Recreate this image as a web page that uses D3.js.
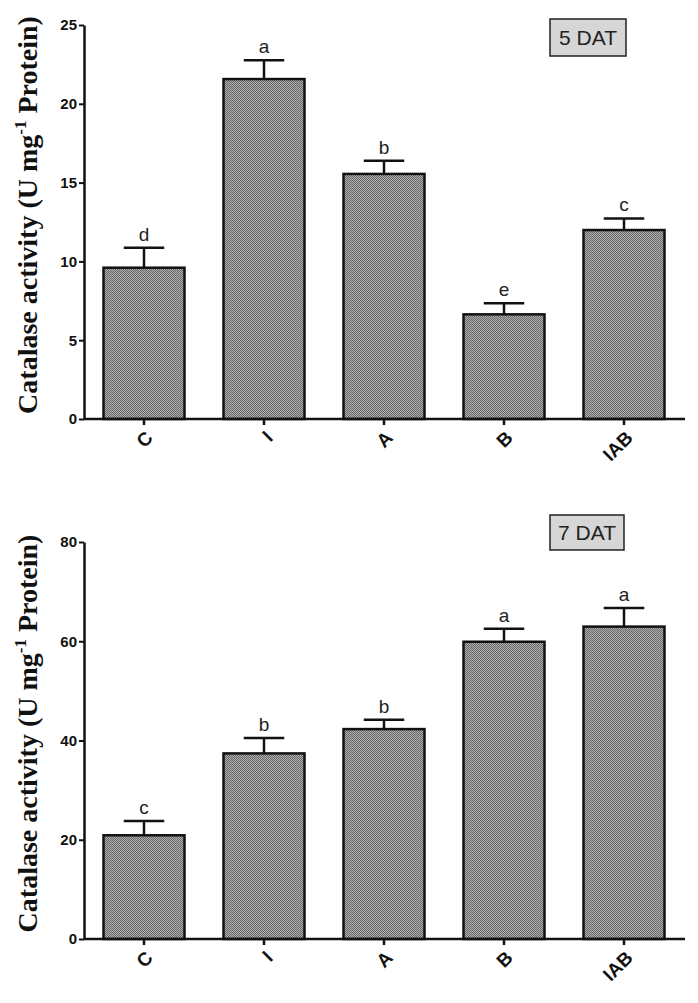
<!DOCTYPE html>
<html lang="en">
<head>
  <meta charset="UTF-8">
  <title>Catalase activity 5 DAT / 7 DAT</title>
  <script src="https://d3js.org/d3.v7.min.js"></script>
  <style>
    body { margin: 0; background: #fff; }
    svg { display: block; }
    .tick text { font-family: "Liberation Sans", Arial, sans-serif; font-weight: bold; fill: #111; }
  </style>
</head>
<body>
  <script>
    // Data
    const categories = ["C", "I", "A", "B", "IAB"];

    const dat5Means = [9.6, 21.57, 15.55, 6.64, 11.99];
    const dat5Errors = [1.27, 1.19, 0.84, 0.7, 0.74];
    const dat5Letters = ["d", "a", "b", "e", "c"];
    const dat5Ticks = [0, 5, 10, 15, 20, 25];

    const dat7Means = [20.9, 37.4, 42.3, 59.9, 62.95];
    const dat7Errors = [2.9, 3.1, 1.9, 2.6, 3.75];
    const dat7Letters = ["c", "b", "b", "a", "a"];
    const dat7Ticks = [0, 20, 40, 60, 80];

    const width = 698, height = 1003;
    const axisLeftX = 84, axisRightX = 685;

    const svg = d3.select("body").append("svg")
      .attr("width", width)
      .attr("height", height);

    // halftone-like fill of the bars
    const pat = svg.append("defs").append("pattern")
      .attr("id", "dots")
      .attr("patternUnits", "userSpaceOnUse")
      .attr("width", 2).attr("height", 2);
    pat.append("rect").attr("width", 2).attr("height", 2).attr("fill", "#b0b0b0");
    pat.append("rect").attr("width", 1).attr("height", 1).attr("fill", "#666");
    pat.append("rect").attr("x", 1).attr("y", 1).attr("width", 1).attr("height", 1).attr("fill", "#666");

    const x = d3.scaleBand()
      .domain(categories)
      .range([axisLeftX, axisRightX - 1])
      .paddingInner(0.325)
      .paddingOuter(0.1625);

    const panels = [
      { label: "5 DAT", means: dat5Means, errors: dat5Errors, letters: dat5Letters, ticks: dat5Ticks,
        yBottom: 419, yTop: 25, box: [550, 19, 76, 37] },
      { label: "7 DAT", means: dat7Means, errors: dat7Errors, letters: dat7Letters, ticks: dat7Ticks,
        yBottom: 939, yTop: 542, box: [550, 515, 74, 35] }
    ];

    panels.forEach(p => {
      const y = d3.scaleLinear()
        .domain([0, d3.max(p.ticks)])
        .range([p.yBottom, p.yTop]);

      const g = svg.append("g");

      // bars
      g.selectAll(".bar")
        .data(categories)
        .enter()
        .append("rect")
        .attr("class", "bar")
        .attr("x", d => x(d))
        .attr("y", (d, i) => y(p.means[i]))
        .attr("width", x.bandwidth())
        .attr("height", (d, i) => y(0) - y(p.means[i]))
        .attr("fill", "url(#dots)")
        .attr("stroke", "#111")
        .attr("stroke-width", 2.5);

      // error bars (upper only) + significance letters
      const capHalf = x.bandwidth() * 0.25;
      categories.forEach((c, i) => {
        const cx = x(c) + x.bandwidth() / 2;
        const top = y(p.means[i] + p.errors[i]);
        g.append("line")
          .attr("x1", cx).attr("x2", cx)
          .attr("y1", y(p.means[i])).attr("y2", top)
          .attr("stroke", "#111").attr("stroke-width", 2.5);
        g.append("line")
          .attr("x1", cx - capHalf).attr("x2", cx + capHalf)
          .attr("y1", top).attr("y2", top)
          .attr("stroke", "#111").attr("stroke-width", 2.5);
        g.append("text")
          .attr("x", cx)
          .attr("y", top - 7)
          .attr("text-anchor", "middle")
          .style("font-family", "'Liberation Sans', Arial, sans-serif")
          .style("font-size", "19px")
          .style("fill", "#222")
          .text(p.letters[i]);
      });

      // y axis
      const yAxis = g.append("g")
        .attr("transform", `translate(${axisLeftX},0)`)
        .call(d3.axisLeft(y).tickValues(p.ticks).tickSize(5).tickSizeOuter(0).tickPadding(2));
      yAxis.select(".domain").attr("stroke", "#111").attr("stroke-width", 2.5);
      yAxis.selectAll(".tick line").attr("stroke", "#111").attr("stroke-width", 2);
      yAxis.selectAll(".tick text").style("font-size", "15px");

      // x axis
      const xAxis = g.append("g")
        .attr("transform", `translate(0,${p.yBottom})`)
        .call(d3.axisBottom(x).tickSize(6).tickSizeOuter(0));
      xAxis.select(".domain").attr("stroke", "#111").attr("stroke-width", 2.5)
        .attr("d", `M${axisLeftX},0H${axisRightX}`);
      xAxis.selectAll(".tick line").attr("stroke", "#111").attr("stroke-width", 2.5);
      xAxis.selectAll(".tick text")
        .style("font-size", "19px")
        .attr("text-anchor", "end")
        .attr("dy", null)
        .attr("y", 0)
        .attr("transform", "translate(10,20) rotate(-45)");

      // y axis title
      const cy = (p.yBottom + p.yTop) / 2 - 7;
      const title = g.append("text")
        .attr("transform", `translate(37,${cy}) rotate(-90)`)
        .attr("text-anchor", "middle")
        .style("font-family", "'Liberation Serif', 'Times New Roman', serif")
        .style("font-weight", "bold")
        .style("font-size", "28px")
        .style("fill", "#111");
      title.append("tspan").text("Catalase activity (U mg");
      title.append("tspan").attr("dy", -11).style("font-size", "17px").text("-1");
      title.append("tspan").attr("dy", 11).text(" Protein)");

      // DAT label box
      g.append("rect")
        .attr("x", p.box[0]).attr("y", p.box[1])
        .attr("width", p.box[2]).attr("height", p.box[3])
        .attr("fill", "#d6d6d6")
        .attr("stroke", "#222").attr("stroke-width", 1.5);
      g.append("text")
        .attr("x", p.box[0] + p.box[2] / 2)
        .attr("y", p.box[1] + p.box[3] / 2 + 7.5)
        .attr("text-anchor", "middle")
        .style("font-family", "'Liberation Sans', Arial, sans-serif")
        .style("font-size", "21px")
        .style("fill", "#222")
        .text(p.label);
    });
  </script>
</body>
</html>
